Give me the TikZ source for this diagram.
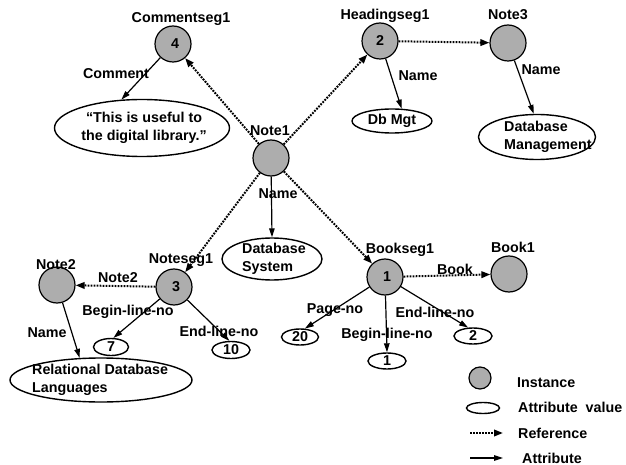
\documentclass[tikz,border=0pt]{standalone}
\usepackage{fontspec}
\setmainfont{Liberation Sans}
\usetikzlibrary{arrows.meta,shapes.geometric}
\begin{document}
\begin{tikzpicture}[x=1pt,y=-1pt,
  font=\bfseries\fontsize{14.3}{17.8}\selectfont,
  inst/.style={circle,draw,line width=1.2pt,fill=black!32,minimum size=36pt,inner sep=0pt},
  attval/.style={ellipse,draw,line width=1.4pt,inner sep=0pt},
  vtext/.style={inner sep=0pt,align=left,anchor=west},
  ref/.style={line width=2pt,dash pattern=on 1.8pt off 1.2pt,-{Triangle[length=9pt,width=6.5pt]}},
  attr/.style={line width=1.2pt,-{Triangle[length=9pt,width=5.5pt]}},
  lbl/.style={inner sep=0pt,anchor=base},
  key/.style={inner sep=0pt,anchor=base west},
]
\useasboundingbox (0,0) rectangle (626,465);

% instances
\node[inst] (cs1) at (173,44) {\raisebox{-4pt}{\hspace{4pt}4}};
\node[inst] (n1)  at (271,158) {};
\node[inst] (hs1) at (380,41) {\raisebox{-4pt}{2}};
\node[inst] (n3)  at (508,43) {};
\node[inst] (ns1) at (174,287) {\raisebox{-4pt}{\hspace{4pt}3}};
\node[inst] (n2)  at (57,285) {};
\node[inst] (bs1) at (385,277) {\raisebox{-1pt}{\hspace{4pt}1}};
\node[inst] (b1)  at (509,274) {};

% attribute values (outlines, then their texts)
\node[attval,minimum width=175pt,minimum height=57pt] (cmt) at (142,128) {};
\node[attval,minimum width=80pt,minimum height=24pt] (dbm) at (392,121) {Db Mgt};
\node[attval,minimum width=117pt,minimum height=45pt] (dbmg) at (537,137) {};
\node[attval,minimum width=100pt,minimum height=42pt] (dbs) at (272,259) {};
\node[attval,minimum width=182pt,minimum height=44pt] (rdl) at (101,380) {};
\node[attval,minimum width=35pt,minimum height=17pt] (v7) at (111,347) {7};
\node[attval,minimum width=38pt,minimum height=17pt] (v10) at (231,350) {10};
\node[attval,minimum width=37pt,minimum height=16pt] (v20) at (300,337) {20};
\node[attval,minimum width=38pt,minimum height=16pt] (v1) at (387,361) {1};
\node[attval,minimum width=38pt,minimum height=16pt] (v2) at (473,336) {2};

\node[inner sep=0pt,align=center] (cmtt) at (144,128) {``This is useful to\\the digital library.''};
\node[vtext] (dbmgt) at (504,137) {Database\\Management};
\node[vtext] (dbst) at (242,259) {Database\\System};
\node[vtext] (rdlt) at (32,380) {Relational Database\\Languages};

% instance names
\node[lbl] (lcs1) at (181,23) {Commentseg1};
\node[lbl] (ln1)  at (270,136) {Note1};
\node[lbl] (lhs1) at (385,20) {Headingseg1};
\node[lbl] (ln3)  at (508,20) {Note3};
\node[lbl] (lns1) at (181,263) {Noteseg1};
\node[lbl] (ln2)  at (56,269) {Note2};
\node[lbl] (lbs1) at (400,253) {Bookseg1};
\node[lbl] (lb1)  at (513,252) {Book1};

% references
\draw[ref] (n1) -- (cs1);
\draw[ref] (n1) -- (hs1);
\draw[ref] (n1) -- (ns1);
\draw[ref] (n1) -- (bs1);
\draw[ref] (hs1) -- (n3);
\draw[ref] (ns1) -- (n2);
\draw[ref] (bs1) -- (b1);

% attributes
\draw[attr] (cs1) -- (cmt.126);
\draw[attr] (hs1) -- (dbm.52);
\draw[attr] (n3) -- (dbmg.98);
\draw[attr] (n1) -- (dbs.north);
\draw[attr] (n2) -- (rdl.134);
\draw[attr] (ns1) -- (v7.75);
\draw[attr] (ns1) -- (v10.100);
\draw[attr] (bs1) -- (v20.60);
\draw[attr] (bs1) -- (v1.north);
\draw[attr] (bs1) -- (v2.120);

% connector labels
\node[lbl] (tcmt) at (116,79) {Comment};
\node[lbl] (tn1)  at (278,199) {Name};
\node[lbl] (ths1) at (418,81) {Name};
\node[lbl] (tn3)  at (541,75) {Name};
\node[lbl] (tn2r) at (118,282) {Note2};
\node[lbl] (tbl1) at (128,315) {Begin-line-no};
\node[lbl] (tel1) at (219,336) {End-line-no};
\node[lbl] (tn2)  at (47,337) {Name};
\node[lbl] (tbk)  at (455,274) {Book};
\node[lbl] (tpg)  at (335,313) {Page-no};
\node[lbl] (tel2) at (435,317) {End-line-no};
\node[lbl] (tbl2) at (387,338) {Begin-line-no};

% key
\node[inst,minimum size=22pt] (kinst) at (480,378) {};
\node[attval,minimum width=33pt,minimum height=11pt] (kval) at (483,408) {};
\coordinate (kr1) at (470,433);
\coordinate (kr2) at (503,433);
\coordinate (ka1) at (470,458);
\coordinate (ka2) at (503,458);
\draw[ref] (kr1) -- (kr2);
\draw[attr] (ka1) -- (ka2);
\node[key] (tkinst) at (517,387) {Instance};
\node[key] (tkval)  at (518,412) {Attribute\ \ value};
\node[key] (tkref)  at (518,438) {Reference};
\node[key] (tkattr) at (522,463) {Attribute};
\end{tikzpicture}
\end{document}
